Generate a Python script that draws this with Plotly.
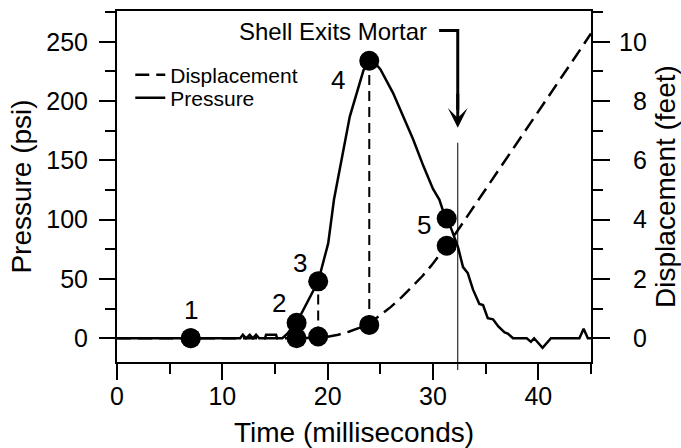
import plotly.graph_objects as go

# ---------------- data ----------------
time_pressure = [0, 11.7, 11.95, 12.25, 12.6, 12.9, 13.2, 13.5, 14.05, 14.15, 15.1, 15.2, 15.7,
                 16.2, 16.6, 17.05, 19.1, 20.05, 20.6, 21.2, 22.1, 23.4, 23.95, 24.5, 25.0,
                 26.2, 26.9, 28.1, 29.1, 30.0, 30.6, 30.9, 31.3, 31.75, 32.4, 32.85, 33.3,
                 33.8, 34.4, 34.75, 35.2, 35.7, 36.2, 36.8, 37.1, 37.6, 38.9, 39.3, 39.6,
                 39.9, 40.4, 41.2, 43.9, 44.3, 44.7, 45]
pressure_psi = [0, 0, 3, 0, 3, 0, 3, 0, 0, 3, 3, 0, 0,
                4, 9, 13, 48, 80, 117, 145, 187, 226, 234, 232, 227,
                207, 193, 168, 145, 126, 117, 109, 101, 92, 76, 60, 55,
                41, 29, 28, 17, 16, 10, 5, 4, 0, 0, -3, 0,
                -3, -8, 0, 0, 8, 0, 0]

time_displacement = [0, 17.05, 19.1, 20, 21, 22, 23, 24, 25, 26, 27, 28, 29, 30, 31, 32, 33,
                     34, 36, 38, 40, 42, 44, 45]
displacement_ft = [0, 0, 0.03, 0.05, 0.12, 0.22, 0.35, 0.52, 0.78, 1.06, 1.38, 1.73, 2.1,
                   2.52, 2.97, 3.46, 3.98, 4.5, 5.55, 6.6, 7.65, 8.7, 9.75, 10.28]

event_labels = ["1", "2", "3", "4", "5"]
event_time = [7.0, 17.05, 19.1, 23.95, 31.3]
event_pressure = [0, 13, 48, 234, 101]
event_displacement = [0, 0, 0.06, 0.45, 3.12]

exit_time = 32.35            # shell exits mortar (ms)
exit_label = "Shell Exits Mortar"

x_ticks = [0, 10, 20, 30, 40]
p_ticks = [0, 50, 100, 150, 200, 250]
d_ticks = [0, 2, 4, 6, 8, 10]

# ---------------- axes scaling ----------------
p_range = [-20, 276]
psi_per_ft = 25.0
d_range = [p_range[0] / psi_per_ft, p_range[1] / psi_per_ft]

FONT = "Liberation Sans, Arial, Helvetica, sans-serif"
BLACK = "#000000"

fig = go.Figure()

# pressure (solid)
fig.add_trace(go.Scatter(
    x=time_pressure, y=pressure_psi, mode="lines", name="Pressure",
    line=dict(color=BLACK, width=2.5), yaxis="y", legend="legend2"))

# displacement (dashed)
fig.add_trace(go.Scatter(
    x=time_displacement, y=displacement_ft, mode="lines", name="Displacement",
    line=dict(color=BLACK, width=2.5, dash="14px,7px"), yaxis="y2", legend="legend"))

# dashed connectors between displacement and pressure markers (events 3 and 4)
for i in (2, 3):
    fig.add_trace(go.Scatter(
        x=[event_time[i], event_time[i]],
        y=[event_displacement[i] * psi_per_ft, event_pressure[i]],
        mode="lines", line=dict(color=BLACK, width=2, dash="10px,6px"),
        showlegend=False, hoverinfo="skip", yaxis="y"))

# event markers
fig.add_trace(go.Scatter(
    x=event_time, y=event_pressure, mode="markers",
    marker=dict(color=BLACK, size=20), showlegend=False, yaxis="y"))
fig.add_trace(go.Scatter(
    x=event_time, y=event_displacement, mode="markers",
    marker=dict(color=BLACK, size=20), showlegend=False, yaxis="y2"))

# ---------------- annotations ----------------
label_offsets = [(0, 28), (-18, 20), (-18, 18), (-31, -19), (-23, -6)]
annotations = []
for lab, t, p, (dx, dy) in zip(event_labels, event_time, event_pressure, label_offsets):
    annotations.append(dict(
        x=t, y=p, xref="x", yref="y", text=lab, showarrow=False,
        xshift=dx, yshift=dy, font=dict(family=FONT, size=26, color=BLACK)))

bar_start = 30.58
bar_level = 259.5
arrow_tip = 177.5

annotations.append(dict(
    x=bar_start, y=bar_level, xref="x", yref="y", text=exit_label, showarrow=False,
    xanchor="right", yanchor="middle", xshift=-10, yshift=-1,
    font=dict(family=FONT, size=24, color=BLACK)))
annotations.append(dict(
    x=exit_time, y=arrow_tip, xref="x", yref="y", ax=exit_time, ay=arrow_tip + 30,
    axref="x", ayref="y", text="", showarrow=True, arrowhead=3, arrowsize=1.1,
    arrowwidth=3, arrowcolor=BLACK, standoff=0))

shapes = [
    dict(type="path", xref="x", yref="y",
         path=f"M {bar_start} {bar_level} L {exit_time} {bar_level} L {exit_time} {arrow_tip + 15}",
         line=dict(color=BLACK, width=3)),
    dict(type="line", xref="x", yref="paper", x0=exit_time, x1=exit_time,
         y0=-0.0228, y1=0.6248, line=dict(color=BLACK, width=1)),
]

tickfont = dict(family=FONT, size=25, color=BLACK)
titlefont = dict(family=FONT, size=28, color=BLACK)

fig.update_layout(
    width=681, height=448,
    margin=dict(l=117, r=90, t=11, b=86, autoexpand=False),
    paper_bgcolor="white", plot_bgcolor="white",
    font=dict(family=FONT, color=BLACK),
    annotations=annotations, shapes=shapes,
    xaxis=dict(
        range=[0, 45], tickmode="array", tickvals=x_ticks, ticks="outside",
        ticklen=16, tickwidth=2, tickcolor=BLACK, ticklabelstandoff=-5,
        minor=dict(tickmode="linear", tick0=0, dtick=5, ticks="outside",
                   ticklen=10, tickwidth=2, tickcolor=BLACK),
        showline=True, linewidth=2, linecolor=BLACK, mirror=True,
        showgrid=False, zeroline=False, tickfont=tickfont,
        title=dict(text="Time (milliseconds)", font=titlefont)),
    yaxis=dict(
        range=p_range, tickmode="array", tickvals=p_ticks, ticks="outside",
        ticklen=16, tickwidth=2, tickcolor=BLACK, ticklabelstandoff=6,
        minor=dict(tickmode="linear", tick0=0, dtick=25, ticks="outside",
                   ticklen=10, tickwidth=2, tickcolor=BLACK),
        showline=True, linewidth=2, linecolor=BLACK,
        showgrid=False, zeroline=False, tickfont=tickfont,
        title=dict(text="Pressure (psi)", font=titlefont, standoff=6)),
    yaxis2=dict(
        range=d_range, overlaying="y", side="right", tickmode="array",
        tickvals=d_ticks, ticktext=[("\u2007" + str(v)) if v < 10 else str(v) for v in d_ticks],
        ticks="outside", ticklen=17, tickwidth=2, tickcolor=BLACK, ticklabelstandoff=4,
        minor=dict(tickmode="linear", tick0=0, dtick=1, ticks="outside",
                   ticklen=10, tickwidth=2, tickcolor=BLACK),
        showline=True, linewidth=2, linecolor=BLACK,
        showgrid=False, zeroline=False, tickfont=tickfont,
        title=dict(text="Displacement (feet)", font=titlefont)),
    legend=dict(x=0.028, y=0.8177, xanchor="left", yanchor="middle",
                bgcolor="rgba(0,0,0,0)", borderwidth=0,
                font=dict(family=FONT, size=21, color=BLACK)),
    legend2=dict(x=0.028, y=0.752, xanchor="left", yanchor="middle",
                 bgcolor="rgba(0,0,0,0)", borderwidth=0,
                 font=dict(family=FONT, size=21, color=BLACK)),
)

fig.write_html("out.html", config={"displayModeBar": False},
               post_script="document.body.style.margin='0px';")
